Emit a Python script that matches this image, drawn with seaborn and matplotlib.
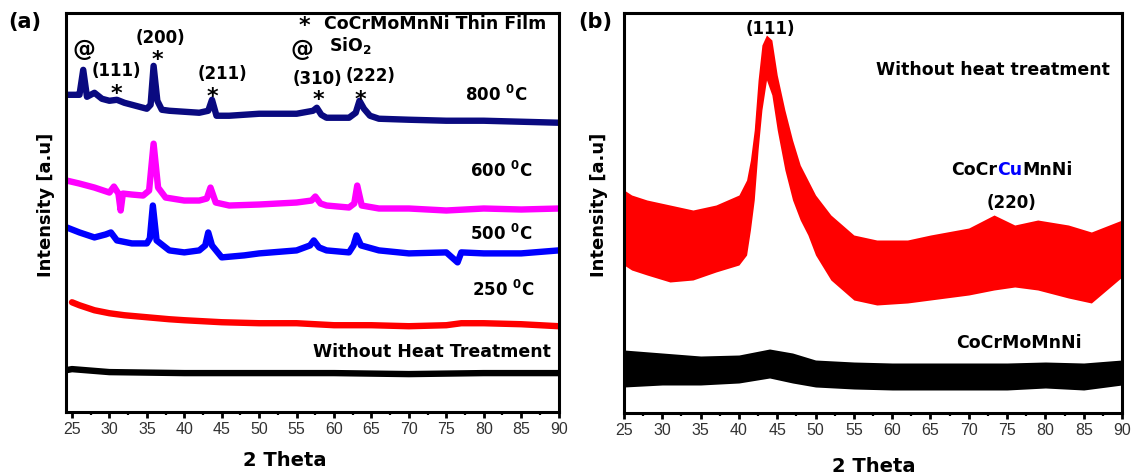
import numpy as np
import pandas as pd
import matplotlib
matplotlib.use("Agg")
import matplotlib.pyplot as plt
import seaborn as sns
from matplotlib.ticker import MultipleLocator

sns.set_style("white")
plt.rcParams['font.family'] = ['Liberation Sans', 'DejaVu Sans']
plt.rcParams['mathtext.fontset'] = 'custom'
plt.rcParams['mathtext.rm'] = 'DejaVu Sans'
plt.rcParams['mathtext.bf'] = 'DejaVu Sans:bold'
plt.rcParams['text.color'] = 'black'
plt.rcParams['axes.labelcolor'] = 'black'

# ---------------- Panel (a) data (intensity, a.u.) ----------------
tt_800 = [24.3, 25.5, 26.0, 26.5, 27.0, 28.0, 29.0, 30.0, 31.0, 32.0, 33.0, 34.0, 35.0, 35.5,
          35.9, 36.4, 37.0, 38.0, 40.0, 42.0, 43.2, 43.7, 44.3, 46.0, 50.0, 53.0, 55.0, 57.2,
          57.7, 58.3, 59.0, 62.0, 62.9, 63.4, 64.0, 64.8, 66.0, 70.0, 75.0, 80.0, 85.0, 90.0]
i_800 = [318, 318, 318, 343, 316, 320, 314, 312, 313, 310, 308, 306, 304, 308,
         347, 312, 303, 302, 301, 300, 302, 313, 297, 297, 299, 299, 299, 302,
         305, 298, 295, 295, 300, 312, 304, 297, 294, 293, 292, 292, 291, 290]

tt_600 = [24.3, 26.0, 28.0, 30.0, 30.6, 31.2, 31.5, 31.8, 33.0, 34.5, 35.3, 35.9, 36.5, 37.5,
          40.0, 42.0, 43.0, 43.5, 44.2, 46.0, 50.0, 55.0, 57.0, 57.5, 58.2, 59.0, 62.0, 62.7,
          63.1, 63.7, 66.0, 70.0, 75.0, 80.0, 85.0, 90.0]
i_600 = [232, 229, 225, 220, 226, 219, 202, 219, 218, 217, 222, 269, 225, 215,
         212, 212, 214, 225, 210, 207, 208, 210, 212, 216, 209, 207, 205, 209,
         227, 207, 204, 204, 202, 204, 203, 204]

tt_500 = [24.3, 26.0, 28.0, 29.5, 30.2, 31.0, 33.0, 35.0, 35.4, 35.8, 36.3, 38.0, 40.0, 42.0,
          42.8, 43.2, 43.7, 45.0, 48.0, 50.0, 55.0, 56.8, 57.3, 58.0, 59.0, 62.0, 62.6, 63.0,
          63.6, 66.0, 70.0, 75.0, 76.5, 77.0, 80.0, 85.0, 90.0]
i_500 = [185, 180, 175, 178, 180, 172, 169, 169, 174, 207, 172, 162, 160, 162,
         167, 180, 167, 155, 157, 159, 162, 167, 172, 165, 162, 160, 167, 177,
         167, 162, 159, 160, 150, 160, 159, 159, 162]

tt_250 = [25, 26, 28, 30, 32, 35, 38, 40, 45, 50, 55, 60, 65, 70, 75, 77, 80, 85, 90]
i_250 = [110, 107, 102, 99, 97, 95, 93, 92, 90, 89, 89, 87, 87, 86, 87, 89, 89, 88, 86]

tt_raw = [24.3, 25, 30, 40, 50, 60, 70, 80, 90]
i_raw = [42, 43, 40, 39, 39, 39, 38, 39, 39]

series_a = [("800", tt_800, i_800, "#0a0a80"),
            ("600", tt_600, i_600, "#ff00ff"),
            ("500", tt_500, i_500, "#0000ff"),
            ("250", tt_250, i_250, "#ff0000"),
            ("raw", tt_raw, i_raw, "#000000")]

# ---------------- Panel (b) data (intensity, a.u.) ----------------
tt_cu = [25, 26, 28, 31, 34, 37, 40, 41, 41.5, 42, 42.5, 43, 43.6, 44.3, 45, 46, 47, 48, 49, 50,
         52, 55, 58, 62, 65, 70, 73.3, 76, 79, 83, 86, 90]
cu_mid = [185, 181, 178, 171, 170, 175, 185, 198, 223, 253, 303, 343, 368, 353, 313, 273, 243,
          223, 208, 193, 168, 148, 141, 143, 143, 151, 155, 158, 158, 153, 148, 165]
cu_hi = [223, 218, 213, 208, 203, 208, 218, 233, 253, 283, 333, 368, 378, 373, 338, 303, 273,
         248, 233, 218, 198, 178, 173, 173, 178, 185, 198, 188, 193, 188, 181, 193]
cu_lo = [148, 143, 138, 131, 133, 141, 148, 158, 183, 213, 263, 303, 333, 318, 283, 243, 213,
         193, 178, 158, 133, 113, 108, 110, 113, 118, 123, 126, 123, 115, 110, 136]

tt_mo = [25, 30, 35, 40, 44, 47, 50, 55, 60, 65, 70, 75, 80, 85, 90]
mo_mid = [48, 46, 43, 45, 51, 45, 40, 38, 36, 36, 36, 36, 37, 36, 40]
mo_hi = [63, 60, 57, 58, 64, 60, 53, 51, 50, 50, 50, 50, 51, 50, 53]
mo_lo = [26, 28, 28, 30, 35, 30, 26, 24, 23, 23, 23, 23, 25, 23, 28]

xticks = [25, 30, 35, 40, 45, 50, 55, 60, 65, 70, 75, 80, 85, 90]

W, H = 1131, 475
fig = plt.figure(figsize=(W / 100, H / 100), dpi=100)
LBL = ['DejaVu Sans']

def px_axes(l, t, r, b):
    return fig.add_axes([l / W, 1 - b / H, (r - l) / W, (b - t) / H])

def ftxt(x, y, s, size=12.5, weight='bold', **kw):
    return fig.text(x / W, 1 - y / H, s, fontsize=size, fontweight=weight,
                    family=kw.pop('family', LBL), color=kw.pop('color', 'black'),
                    ha=kw.pop('ha', 'center'), va=kw.pop('va', 'center'), **kw)

def style_axes(ax, xlim):
    ax.set_xlim(*xlim)
    ax.set_ylim(0, 400)
    ax.set_xticks(xticks)
    ax.xaxis.set_minor_locator(MultipleLocator(2.5))
    ax.set_yticks([])
    for sp in ax.spines.values():
        sp.set_linewidth(2.2)
        sp.set_color('black')
    ax.tick_params(axis='x', which='major', direction='out', length=4, width=2, color='black',
                   labelsize=11.5, labelcolor='#333333', pad=3, bottom=True)
    ax.tick_params(axis='x', which='minor', direction='out', length=2.5, width=1.6,
                   color='black', bottom=True)
    ax.set_xlabel("")
    ax.set_ylabel("")

# ---------- Panel (a) ----------
axa = px_axes(66, 13, 559, 412)
for name, tt, ii, col in series_a:
    df = pd.DataFrame({"two_theta": tt, "intensity": ii})
    sns.lineplot(data=df, x="two_theta", y="intensity", ax=axa, color=col,
                 linewidth=4.6, estimator=None, sort=False)
style_axes(axa, (24.2, 90.05))

# ---------- Panel (b) ----------
axb = px_axes(624, 13, 1122, 413)
axb.fill_between(tt_cu, cu_lo, cu_hi, color="#ff0000", linewidth=0)
sns.lineplot(x=tt_cu, y=cu_mid, ax=axb, color="#ff0000", linewidth=1.5, estimator=None)
axb.fill_between(tt_mo, mo_lo, mo_hi, color="#000000", linewidth=0)
sns.lineplot(x=tt_mo, y=mo_mid, ax=axb, color="#000000", linewidth=1.5, estimator=None)
style_axes(axb, (25, 90))

# ---------- Text: panel (a) ----------
ftxt(25, 22, "(a)", size=15)
ftxt(84, 50, "@", size=16.5)
ftxt(116, 71, "(111)", size=12)
ftxt(116, 94, "*", size=16)
ftxt(160, 38, "(200)", size=12)
ftxt(157, 60, "*", size=16)
ftxt(222, 74, "(211)", size=12)
ftxt(212, 97, "*", size=16)
ftxt(317, 79, "(310)", size=12)
ftxt(318, 100, "*", size=16)
ftxt(371, 76, "(222)", size=12)
ftxt(360, 100, "*", size=16)
ftxt(304, 26, "*", size=16)
ftxt(324, 24, "CoCrMoMnNi Thin Film", size=12.5, ha='left')
ftxt(302, 49, "@", size=16.5)
ftxt(329, 46, r"SiO$_\mathbf{2}$", size=12.5, ha='left')
ftxt(465, 95, r"800 $^\mathbf{0}$C", size=12, ha='left')
ftxt(470, 171, r"600 $^\mathbf{0}$C", size=12, ha='left')
ftxt(470, 234, r"500 $^\mathbf{0}$C", size=12, ha='left')
ftxt(472, 290, r"250 $^\mathbf{0}$C", size=12, ha='left')
ftxt(313, 352, "Without Heat Treatment", size=12.5, ha='left')
ftxt(46, 205, "Intensity [a.u]", size=13, rotation=90)
ftxt(285, 460, "2 Theta", size=14)

# ---------- Text: panel (b) ----------
ftxt(595, 22, "(b)", size=15)
ftxt(770, 29, "(111)", size=12)
ftxt(993, 70, "Without heat treatment", size=12.5)
ftxt(1011, 203, "(220)", size=12)
ftxt(1019, 343, "CoCrMoMnNi", size=12.5)
ftxt(599, 205, "Intensity [a.u]", size=13, rotation=90)
ftxt(874, 466, "2 Theta", size=14)

# coloured formula CoCrCuMnNi
fig.canvas.draw()
r = fig.canvas.get_renderer()
parts = [("CoCr", "black"), ("Cu", "#0000ff"), ("MnNi", "black")]
widths = []
for s, c in parts:
    t = ftxt(0, 170, s, size=12.5, color=c, ha='left')
    widths.append(t.get_window_extent(renderer=r).width)
    t.remove()
x0 = 1012 - sum(widths) / 2
for (s, c), w in zip(parts, widths):
    ftxt(x0, 170, s, size=12.5, color=c, ha='left')
    x0 += w

fig.savefig("out.png", dpi=100)
